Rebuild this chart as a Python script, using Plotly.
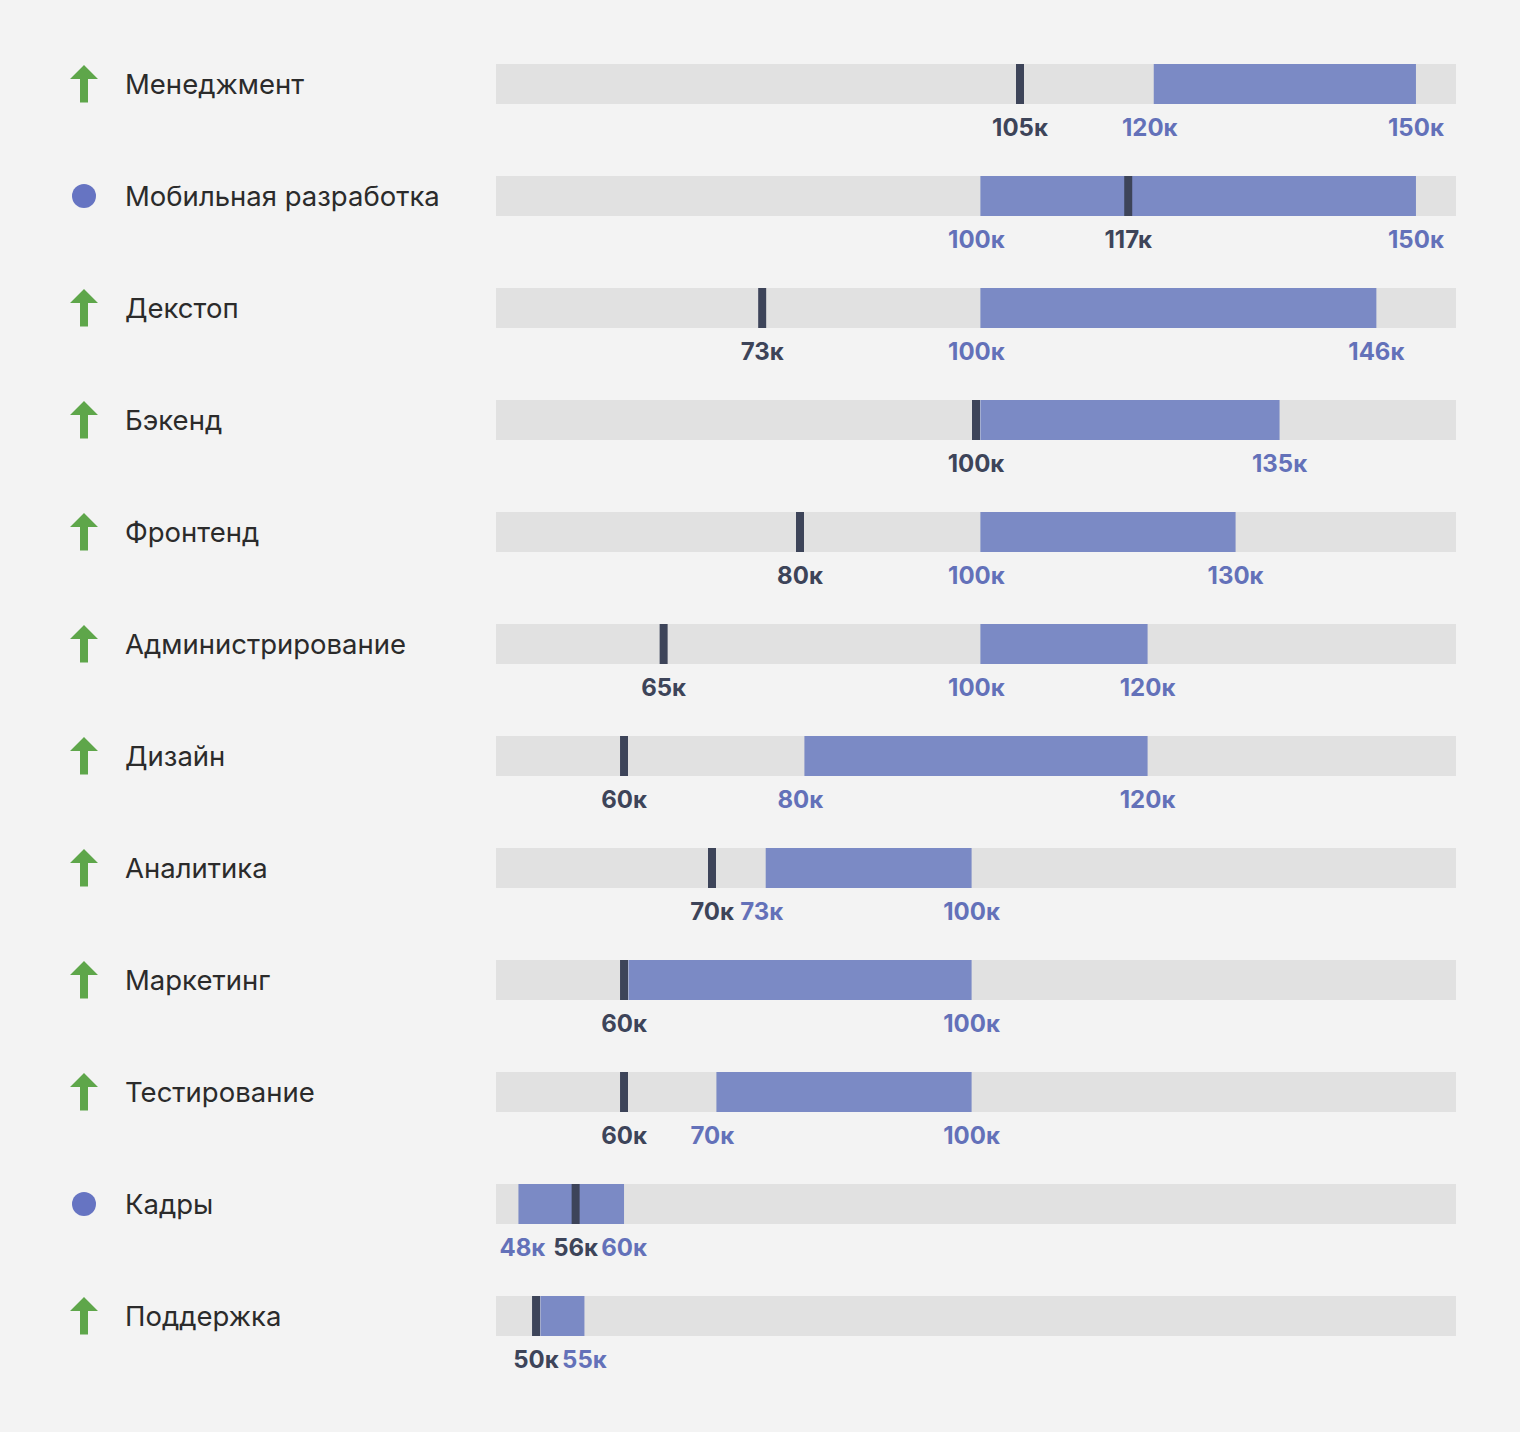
import plotly.graph_objects as go

# ---- data (thousands of roubles) ----
categories = ["Менеджмент", "Мобильная разработка", "Декстоп", "Бэкенд", "Фронтенд",
              "Администрирование", "Дизайн", "Аналитика", "Маркетинг", "Тестирование",
              "Кадры", "Поддержка"]
trend = ["up", "flat", "up", "up", "up", "up", "up", "up", "up", "up", "flat", "up"]
range_low = [120.2, 100.5, 100.5, 100.5, 100.5, 100.5, 80.5, 76.1, 60.5, 70.5, 48.0, 50.5]
range_high = [150.0, 150.0, 145.5, 134.5, 129.5, 119.5, 119.5, 99.5, 99.5, 99.5, 60.0, 55.5]
median = [105.0, 117.3, 75.7, 100.0, 80.0, 64.5, 60.0, 70.0, 60.0, 60.0, 54.5, 50.0]
low_labels = ["120к", "100к", "100к", "", "100к", "100к", "80к", "73к", "", "70к", "48к", ""]
high_labels = ["150к", "150к", "146к", "135к", "130к", "120к", "120к", "100к", "100к", "100к", "60к", "55к"]
median_labels = ["105к", "117к", "73к", "100к", "80к", "65к", "60к", "70к", "60к", "60к", "56к", "50к"]
scale_min, scale_max = 45.45, 154.55

# ---- styling ----
W, H = 1520, 1432
ROW = 112.0          # px per row
TOP = 84.0           # px centre of first row
BAR_H = 40.0
PX_PER_K = 960.0 / (scale_max - scale_min)
BG = "#f3f3f3"
TRACK = "#e1e1e1"
BLUE_BAR = "#7b8ac5"
BLUE_TXT = "#6371b9"
DARK = "#3d4459"
GREEN = "#5ea64a"
DOT = "#6674c2"

n = len(categories)
rows = list(range(n))
bw = BAR_H / ROW
mark_w = 8.0 / PX_PER_K
lo_shift = 4.0 / PX_PER_K   # low-bound label sits just left of the bar start

fig = go.Figure()
fig.add_trace(go.Bar(y=rows, x=[scale_max - scale_min] * n, base=[scale_min] * n,
                     orientation="h", width=bw, marker=dict(color=TRACK, line=dict(width=0)),
                     hoverinfo="skip"))
fig.add_trace(go.Bar(y=rows, x=[h - l for l, h in zip(range_low, range_high)], base=range_low,
                     orientation="h", width=bw, marker=dict(color=BLUE_BAR, line=dict(width=0)),
                     hoverinfo="skip"))
fig.add_trace(go.Bar(y=rows, x=[mark_w] * n, base=[m - mark_w / 2 for m in median],
                     orientation="h", width=bw, marker=dict(color=DARK, line=dict(width=0)),
                     hoverinfo="skip"))

lab_dy = 46.0 / ROW
num_font_blue = dict(family="Inter", size=24, color=BLUE_TXT, weight=700)
num_font_dark = dict(family="Inter", size=24, color=DARK, weight=700)

lx, ly, lt = [], [], []
for i in rows:
    if low_labels[i]:
        shift = lo_shift if range_low[i] - lo_shift > scale_min + 3 else -lo_shift
        lx.append(range_low[i] - shift); ly.append(i + lab_dy); lt.append(low_labels[i])
    lx.append(range_high[i]); ly.append(i + lab_dy); lt.append(high_labels[i])
fig.add_trace(go.Scatter(x=lx, y=ly, text=lt, mode="text", textposition="middle center",
                         textfont=num_font_blue, hoverinfo="skip", cliponaxis=False))
fig.add_trace(go.Scatter(x=median, y=[i + lab_dy for i in rows], text=median_labels, mode="text",
                         textposition="middle center", textfont=num_font_dark, hoverinfo="skip",
                         cliponaxis=False))

# category names
for i, name in enumerate(categories):
    fig.add_annotation(x=123 / W, xref="paper", y=i, yref="y", text=name, showarrow=False,
                       xanchor="left", yanchor="middle",
                       font=dict(family="Inter", size=27.5, color="#2b2b2b"))

# trend icons
def px(x):
    return x / W

for i, t in enumerate(trend):
    if t == "up":
        ya = i - 19 / ROW
        yb = i - 5 / ROW
        yc = i + 18.5 / ROW
        path = (f"M {px(70)},{yb} L {px(84)},{ya} L {px(98)},{yb} L {px(88)},{yb} "
                f"L {px(88)},{yc} L {px(80)},{yc} L {px(80)},{yb} Z")
        fig.add_shape(type="path", path=path, xref="paper", yref="y",
                      fillcolor=GREEN, line=dict(width=0))
    else:
        fig.add_shape(type="circle", xref="paper", yref="y", x0=px(72), x1=px(96),
                      y0=i - 12 / ROW, y1=i + 12 / ROW, fillcolor=DOT, line=dict(width=0))

fig.update_layout(
    width=W, height=H, margin=dict(l=0, r=0, t=0, b=0),
    paper_bgcolor=BG, plot_bgcolor="rgba(0,0,0,0)",
    barmode="overlay", showlegend=False,
    xaxis=dict(domain=[496 / W, 1456 / W], range=[scale_min, scale_max], visible=False,
               fixedrange=True),
    yaxis=dict(domain=[0, 1], range=[(H - TOP) / ROW, -TOP / ROW], visible=False,
               fixedrange=True),
)

fig.write_html(
    "out.html",
    config={"displayModeBar": False},
    post_script="document.body.style.margin='0';document.body.style.background='#f3f3f3';"
                "document.body.style.overflow='hidden';",
)
